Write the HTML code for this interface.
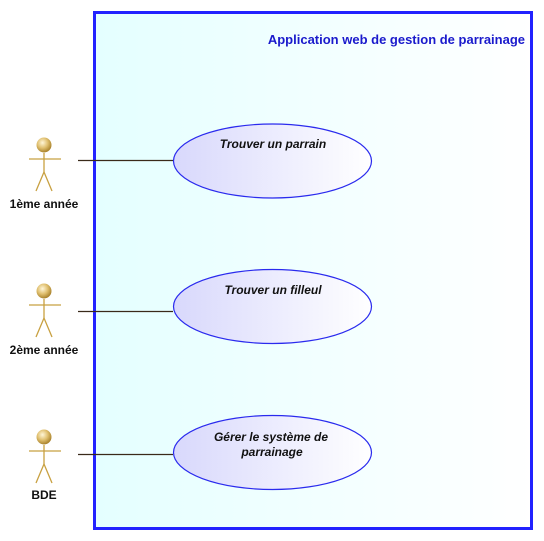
<!DOCTYPE html>
<html><head><meta charset="utf-8"><style>html,body{margin:0;padding:0;background:#fff}svg{display:block}</style></head>
<body>
<svg width="544" height="541" xmlns="http://www.w3.org/2000/svg" font-family="Liberation Sans, sans-serif">
<defs>
<linearGradient id="bg" x1="0" x2="1" y1="0" y2="0"><stop offset="0" stop-color="#e4ffff"/><stop offset="1" stop-color="#ffffff"/></linearGradient>
<linearGradient id="el" x1="0" x2="1" y1="0" y2="0"><stop offset="0" stop-color="#d8d8fc"/><stop offset="1" stop-color="#ffffff"/></linearGradient>
<radialGradient id="hd" cx="0.4" cy="0.35" r="0.7"><stop offset="0" stop-color="#fff6d8"/><stop offset="0.5" stop-color="#e0c070"/><stop offset="1" stop-color="#a07820"/></radialGradient>
</defs>
<rect x="94.5" y="12.5" width="437" height="516" fill="url(#bg)" stroke="#2222ff" stroke-width="3"/>
<text x="525" y="44" text-anchor="end" font-size="13" font-weight="bold" fill="#1a1acc">Application web de gestion de parrainage</text>
<g stroke="#3a2a1a" stroke-width="1.2">
<line x1="78" y1="160.5" x2="173" y2="160.5"/>
<line x1="78" y1="311.5" x2="173" y2="311.5"/>
<line x1="78" y1="454.5" x2="173" y2="454.5"/>
</g>
<g fill="url(#el)" stroke="#2a2aee" stroke-width="1.2">
<ellipse cx="272.5" cy="161" rx="99" ry="37"/>
<ellipse cx="272.5" cy="306.5" rx="99" ry="37"/>
<ellipse cx="272.5" cy="452.5" rx="99" ry="37"/>
</g>
<g font-size="12" font-style="italic" font-weight="bold" fill="#111" text-anchor="middle">
<text x="273" y="148">Trouver un parrain</text>
<text x="273" y="294">Trouver un filleul</text>
<text x="271" y="441">Gérer le système de</text>
<text x="272" y="456">parrainage</text>
</g>
<g id="a1">
<g stroke="#c8a040" stroke-width="1.3" fill="none">
<line x1="44" y1="153" x2="44" y2="172"/>
<line x1="29" y1="159" x2="61" y2="159"/>
<polyline points="36,191 44,172 52,191"/>
</g>
<circle cx="44" cy="145" r="7.5" fill="url(#hd)"/>
</g>
<use href="#a1" y="146"/>
<use href="#a1" y="292"/>
<g font-size="12" font-weight="bold" fill="#111" text-anchor="middle">
<text x="44" y="208">1ème année</text>
<text x="44" y="354">2ème année</text>
<text x="44" y="499">BDE</text>
</g>
</svg>
</body></html>
